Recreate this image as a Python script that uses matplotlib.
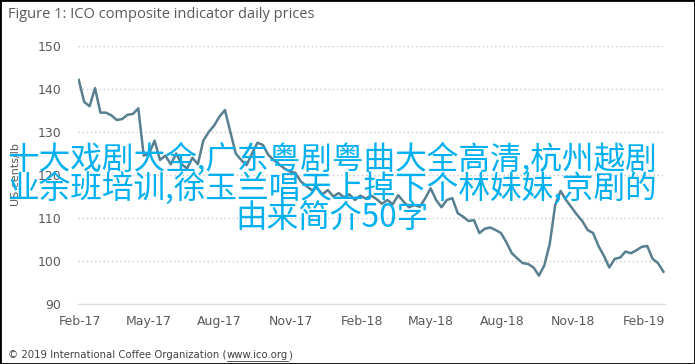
import pandas as pd
import matplotlib
matplotlib.use('Agg')
import matplotlib.pyplot as plt
import matplotlib.dates as mdates

# weekly readings of the ICO composite indicator (US cents/lb)
start_date = '2017-01-31'
prices = [
    142.1, 137.0, 136.0, 140.2, 134.5, 134.5, 133.9, 132.8, 133.0, 134.0,
    134.2, 135.5, 124.5, 125.0, 128.0, 123.5, 124.5, 122.5, 125.0, 122.5,
    121.5, 124.0, 122.5, 128.0, 130.0, 131.5, 133.6, 135.1, 130.0, 125.0,
    123.5, 122.3, 125.0, 127.5, 127.0, 124.7, 123.5, 122.5, 121.5, 120.8,
    120.5, 118.5, 117.5, 116.5, 117.0, 115.5, 116.5, 115.0, 115.8, 114.8,
    115.5, 114.2, 115.2, 114.5, 115.2, 114.4, 113.3, 114.2, 113.2, 115.3,
    113.8, 112.5, 113.0, 112.6, 114.6, 116.9, 114.2, 112.5, 114.2, 114.6,
    111.1, 110.3, 109.3, 109.5, 106.5, 107.5, 107.8, 107.2, 106.5, 104.3,
    101.8, 100.6, 99.5, 99.3, 98.5, 96.6, 99.0, 104.0, 113.0, 116.3,
    114.2, 112.5, 110.8, 109.3, 107.2, 106.5, 103.5, 101.2, 98.5, 100.5,
    100.8, 102.2, 101.8, 102.5, 103.3, 103.5, 100.5, 99.5, 97.5,
]
dates = pd.date_range(start_date, periods=len(prices), freq='7D')

y_ticks = [90, 100, 110, 120, 130, 140, 150]

title = 'Figure 1: ICO composite indicator daily prices'
footer = '\u00a9 2019 International Coffee Organization ('
footer_link = 'www.ico.org'
overlay = ['十大戏剧大全,广东粤剧粤曲大全高清,杭州越剧',
           '业余班培训,徐玉兰唱天上掉下个林妹妹,京剧的',
           '由来简介50字']

fig = plt.figure(figsize=(6.95, 3.64), dpi=100)
ax = fig.add_axes([78 / 695, 1 - 304 / 364, 587 / 695, 258 / 364])

ax.plot(dates, prices, color='#587f90', linewidth=1.8)

ax.set_ylim(90, 150)
ax.set_yticks(y_ticks)
ax.set_xlim(pd.Timestamp('2017-01-30'), pd.Timestamp('2019-02-28'))
ax.xaxis.set_major_locator(mdates.MonthLocator(bymonth=[2, 5, 8, 11]))
ax.xaxis.set_major_formatter(mdates.DateFormatter('%b-%y'))

ax.grid(axis='y', linestyle=(0, (1, 2)), color='#c8c8c8', linewidth=1)
ax.grid(axis='x', visible=False)
for side in ['left', 'right', 'top']:
    ax.spines[side].set_visible(False)
ax.spines['bottom'].set_color('#d9d9d9')
ax.tick_params(length=0, labelsize=9, colors='#595959', pad=8)
ax.tick_params(axis='y', pad=12)
ax.set_ylabel('US cents/lb', fontsize=8, color='#595959', labelpad=12)

fig.text(8 / 695, 1 - 14 / 364, title, fontsize=10.5, color='#595959',
         va='center', ha='left', family='Open Sans')
foot = fig.text(8 / 695, 1 - 355 / 364, footer, fontsize=7.3, color='#404040',
                va='center', ha='left')
fig.canvas.draw()
bb = foot.get_window_extent()
link = fig.text(bb.x1 / 695, 1 - 355 / 364, footer_link, fontsize=7.3,
                color='#404040', va='center', ha='left')
fig.canvas.draw()
lb = link.get_window_extent()
fig.add_artist(plt.Line2D([lb.x0 / 695, lb.x1 / 695], [(lb.y0 - 0.5) / 364] * 2,
                          color='#404040', linewidth=0.6))
fig.text(lb.x1 / 695, 1 - 355 / 364, ')', fontsize=7.3, color='#404040',
         va='center', ha='left')

# black frame around the whole picture
fig.add_artist(plt.Rectangle((0, 0), 1, 1, transform=fig.transFigure,
                             fill=False, edgecolor='black', linewidth=2))

for i, line in enumerate(overlay):
    fig.text(332 / 695, 1 - (159 + 29.5 * i) / 364, line, fontsize=22.8,
             color='#00b0f0', ha='center', va='center', zorder=10,
             family=['Noto Sans CJK SC', 'DejaVu Sans'])

fig.savefig('out.png', dpi=100)
